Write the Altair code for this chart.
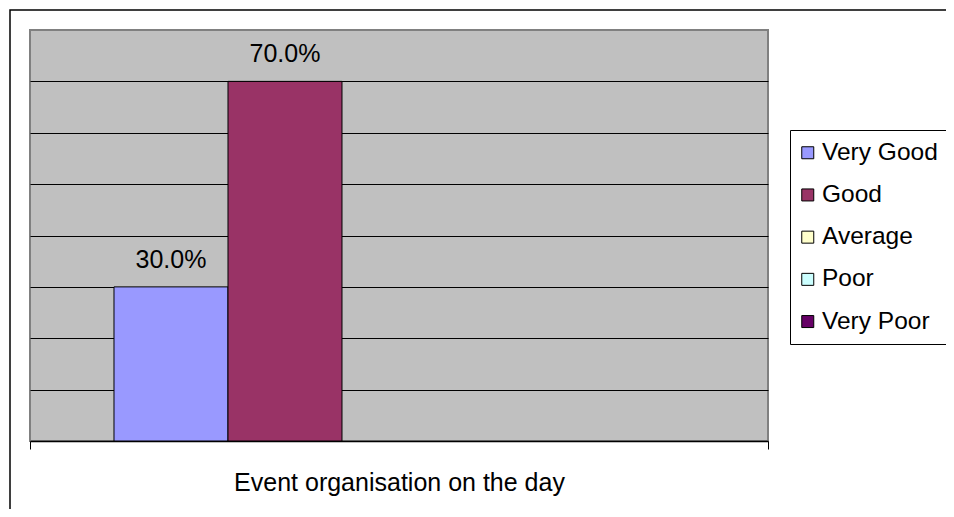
import altair as alt
import pandas as pd

# ---- data ----
categories = ["Very Good", "Good", "Average", "Poor", "Very Poor"]
values_pct = [30.0, 70.0, 0.0, 0.0, 0.0]
colors = ["#9999FF", "#993366", "#FFFFCC", "#CCFFFF", "#660066"]
group_label = "Event organisation on the day"
grid_values = [0.1, 0.2, 0.3, 0.4, 0.5, 0.6, 0.7]
y_max = 0.8

df = pd.DataFrame({
    "group": [group_label] * len(categories),
    "rating": categories,
    "value": [v / 100 for v in values_pct],
})

FONT = "Liberation Sans"
FS = 25

x_enc = alt.X(
    "group:N",
    scale=alt.Scale(paddingInner=0, paddingOuter=0),
    axis=alt.Axis(
        title=None, labelAngle=0, labelFontSize=FS, labelFont=FONT, labelColor="black",
        labelBaseline="alphabetic", labelPadding=41, tickSize=8, tickColor="black",
        tickWidth=1, tickBand="extent", domainColor="black", domainWidth=1.5, grid=False,
        labelLimit=700,
    ),
)
xo_enc = alt.XOffset(
    "rating:N", sort=categories,
    scale=alt.Scale(domain=categories, paddingInner=0, paddingOuter=0.7368),
)
y_enc = alt.Y(
    "value:Q",
    scale=alt.Scale(domain=[0, y_max], nice=False, zero=True),
    axis=alt.Axis(
        title=None, labels=False, ticks=False, domain=False, grid=True,
        gridColor="black", gridWidth=1, gridOpacity=1, values=grid_values,
    ),
)
color_enc = alt.Color(
    "rating:N",
    scale=alt.Scale(domain=categories, range=colors),
    legend=alt.Legend(
        title=None, orient="none", legendX=760, legendY=100,
        symbolType="square", symbolSize=144, symbolStrokeColor="black",
        symbolStrokeWidth=1, symbolOpacity=1, symbolOffset=-5,
        labelFont=FONT, labelFontSize=24.5, labelColor="black", labelOffset=2,
        rowPadding=17.2, padding=10.5, strokeColor="black", fillColor="white",
        labelLimit=300,
    ),
)

base = alt.Chart(df).transform_filter(alt.datum.value > 0)

bars = base.mark_bar(stroke="black", strokeWidth=1, opacity=1).encode(
    x=x_enc, xOffset=xo_enc, y=y_enc, color=color_enc,
)

labels = base.mark_text(
    baseline="alphabetic", dy=-19, fontSize=FS, font=FONT, color="black",
).encode(
    x=x_enc, xOffset=xo_enc, y=y_enc,
    text=alt.Text("value:Q", format=".1%"),
)

border = alt.Chart(alt.Data(values=[{}])).mark_rect(
    fill=None, stroke="black", strokeWidth=1.5,
).encode(
    x=alt.value(-20), x2=alt.value(1200), y=alt.value(-20), y2=alt.value(800),
)

chart = alt.layer(bars, labels, border).properties(
    width=738, height=411,
    autosize=alt.AutoSizeParams(type="none"),
    padding={"left": 22, "top": 22, "right": 178, "bottom": 68},
    background="white",
).configure_view(
    fill="#C0C0C0", stroke="#808080", strokeWidth=2,
)

chart.save("out.html", embed_options={"renderer": "svg", "actions": False})
